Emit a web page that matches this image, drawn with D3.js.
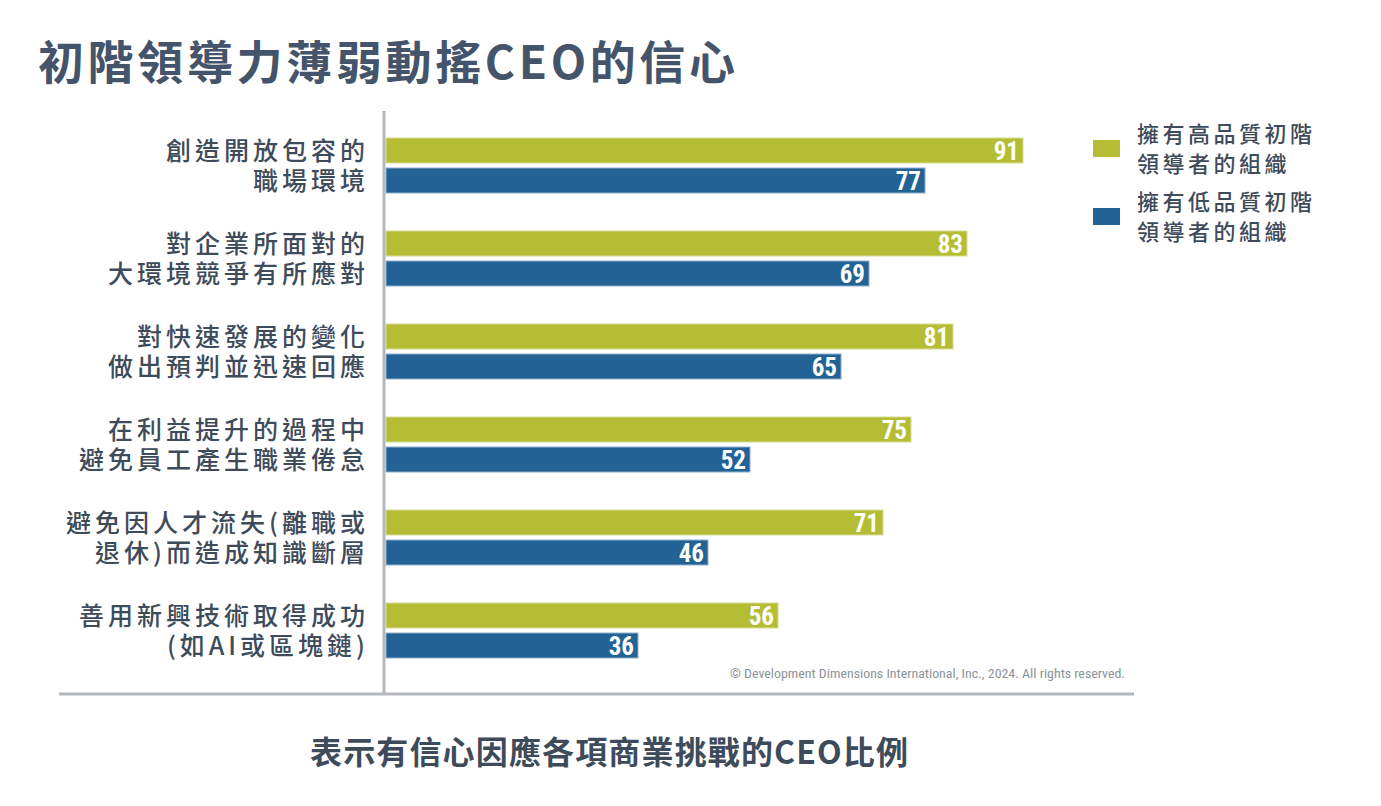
<!DOCTYPE html>
<html><head><meta charset="utf-8">
<script src="https://cdn.jsdelivr.net/npm/d3@7"></script>
<style>
html,body{margin:0;padding:0;background:#fff;}
svg{display:block;}
</style></head>
<body>
<svg id="chart" width="1381" height="806"></svg>
<script>
const title = "初階領導力薄弱動搖CEO的信心";
const subtitle = "表示有信心因應各項商業挑戰的CEO比例";
const copyright = "© Development Dimensions International, Inc., 2024. All rights reserved.";
const categories = ["c1","c2","c3","c4","c5","c6"];
const categoryLines = [
  ["創造開放包容的","職場環境"],
  ["對企業所面對的","大環境競爭有所應對"],
  ["對快速發展的變化","做出預判並迅速回應"],
  ["在利益提升的過程中","避免員工產生職業倦怠"],
  ["避免因人才流失(離職或","退休)而造成知識斷層"],
  ["善用新興技術取得成功","(如AI或區塊鏈)"]
];
const seriesNames = ["擁有高品質初階領導者的組織","擁有低品質初階領導者的組織"];
const legendLines = [["擁有高品質初階","領導者的組織"],["擁有低品質初階","領導者的組織"]];
const highValues = [91,83,81,75,71,56];
const lowValues = [77,69,65,52,46,36];
const colors = ["#b5bd34","#236294"];

const svg = d3.select("#chart");
const CJK = "'Noto Sans CJK TC','Noto Sans CJK SC',sans-serif";
const NARROW = "'Liberation Sans Narrow','Roboto Condensed','Arial Narrow',sans-serif";

// title
svg.append("text").attr("x",38).attr("y",79)
  .attr("font-family",CJK).attr("font-weight",700).attr("font-size",46)
  .attr("fill","#44546a").attr("textLength",697).attr("lengthAdjust","spacing")
  .text(title);

const x = d3.scaleLinear().domain([0,100]).range([386,1086]);
const y = d3.scaleBand().domain(categories).range([124,682]);
const sub = d3.scaleBand().domain([0,1]).range([14,69]).paddingInner(1/6);

const data = categories.map((c,i)=>({c, vals:[highValues[i], lowValues[i]], lines:categoryLines[i]}));

const g = svg.append("g");
const grp = g.selectAll("g.cat").data(data).join("g").attr("class","cat")
  .attr("transform",d=>`translate(0,${y(d.c)})`);

grp.selectAll("rect").data(d=>d.vals.map((v,k)=>({v,k}))).join("rect")
  .attr("x",x(0)).attr("y",d=>sub(d.k))
  .attr("width",d=>x(d.v)-x(0)).attr("height",sub.bandwidth())
  .attr("fill",d=>colors[d.k])
  .attr("stroke",d=>d.k===0?"#d6dc93":"#8fb0cc").attr("stroke-width",1);

grp.selectAll("text.val").data(d=>d.vals.map((v,k)=>({v,k}))).join("text").attr("class","val")
  .attr("x",d=>x(d.v)-4).attr("y",d=>sub(d.k)+sub.bandwidth()/2+9)
  .attr("text-anchor","end").attr("fill","#fff")
  .attr("font-family",NARROW).attr("font-weight",700).attr("font-size",25)
  .text(d=>d.v);

grp.selectAll("text.lab").data(d=>d.lines.map((t,k)=>({t,k}))).join("text").attr("class","lab")
  .attr("x",369).attr("y",d=>sub(d.k)+sub.bandwidth()/2+9)
  .attr("text-anchor","end").attr("fill","#3e4b5b")
  .attr("font-family",CJK).attr("font-weight",500).attr("font-size",25)
  .attr("letter-spacing",4)
  .text(d=>d.t);

// axis line
svg.append("line").attr("x1",384).attr("x2",384).attr("y1",111).attr("y2",694)
  .attr("stroke","#b3b8bd").attr("stroke-width",3);
// bottom line
svg.append("line").attr("x1",59).attr("x2",1134).attr("y1",694).attr("y2",694)
  .attr("stroke","#b3b8bd").attr("stroke-width",3);

// copyright
svg.append("text").attr("x",730).attr("y",678)
  .attr("font-family",NARROW).attr("font-size",13.5).attr("fill","#8b929a")
  .attr("textLength",395).attr("lengthAdjust","spacingAndGlyphs")
  .text(copyright);

// legend
const lg = svg.append("g").selectAll("g").data(legendLines).join("g")
  .attr("transform",(d,i)=>`translate(1093,${132+i*68})`);
lg.append("rect").attr("x",0).attr("y",8).attr("width",27).attr("height",17)
  .attr("fill",(d,i)=>colors[i]);
lg.selectAll("text").data(d=>d).join("text")
  .attr("x",44).attr("y",(d,k)=>10+k*30)
  .attr("font-family",CJK).attr("font-weight",500).attr("font-size",22)
  .attr("letter-spacing",3.5).attr("fill","#3e4b5b")
  .text(d=>d);

// subtitle
svg.append("text").attr("x",310).attr("y",764)
  .attr("font-family",CJK).attr("font-weight",700).attr("font-size",32)
  .attr("fill","#3e4b5b").attr("textLength",598).attr("lengthAdjust","spacing")
  .text(subtitle);
</script>
</body></html>
